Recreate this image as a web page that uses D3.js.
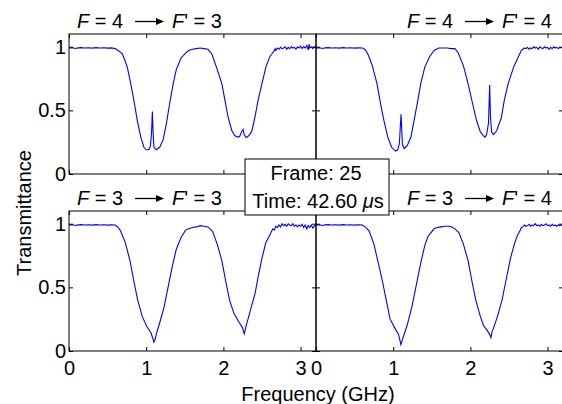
<!DOCTYPE html>
<html>
<head>
<meta charset="utf-8">
<script src="https://cdn.jsdelivr.net/npm/d3@7"></script>
<style>
  body { margin: 0; background: #fff; }
  svg text { font-family: "Liberation Sans", Arial, sans-serif; fill: #000; }
  .axis text { font-size: 20px; }
  .axis line { stroke: #000; }
  .axis path { display: none; }
</style>
</head>
<body>
<svg id="chart" width="562" height="404"></svg>
<script>
/* DATA: [frequency GHz, transmittance] */

const baseline = [[0.00, 0.990], [0.05, 0.992], [0.08, 0.986], [0.12, 0.991], [0.16, 0.993], [0.20, 0.990],
  [0.25, 0.992], [0.30, 0.989], [0.35, 0.993], [0.40, 0.990], [0.45, 0.992], [0.50, 0.989], [0.55, 0.991]];

// F = 4 -> F' = 3
const curveTL = [...baseline,
  [0.60, 0.985], [0.65, 0.965], [0.69, 0.945], [0.72, 0.90], [0.755, 0.84], [0.80, 0.71], [0.84, 0.58],
  [0.885, 0.42], [0.93, 0.29], [0.97, 0.21], [1.00, 0.19], [1.035, 0.19], [1.055, 0.22], [1.07, 0.33],
  [1.08, 0.49], [1.09, 0.32], [1.10, 0.21], [1.13, 0.19], [1.175, 0.21], [1.22, 0.27], [1.26, 0.39],
  [1.30, 0.54], [1.35, 0.71], [1.39, 0.82], [1.45, 0.91], [1.51, 0.95], [1.55, 0.97], [1.60, 0.98],
  [1.65, 0.985], [1.70, 0.99], [1.75, 0.985], [1.80, 0.98], [1.85, 0.945], [1.91, 0.84], [1.98, 0.71],
  [2.02, 0.58], [2.06, 0.45], [2.11, 0.34], [2.15, 0.30], [2.19, 0.29], [2.21, 0.295], [2.235, 0.33],
  [2.255, 0.35], [2.27, 0.31], [2.29, 0.29], [2.31, 0.29], [2.34, 0.31], [2.37, 0.34], [2.41, 0.45],
  [2.45, 0.58], [2.50, 0.71], [2.55, 0.84], [2.60, 0.92], [2.63, 0.945], [2.66, 0.97], [2.67, 0.985],
  [2.68, 0.97], [2.70, 0.99], [2.72, 0.98], [2.74, 0.995], [2.76, 0.985], [2.78, 0.99], [2.80, 1.0],
  [2.82, 0.98], [2.84, 0.995], [2.86, 0.985], [2.88, 1.0], [2.90, 0.99], [2.92, 0.995], [2.94, 0.98],
  [2.96, 1.0], [2.98, 0.99], [3.00, 1.005], [3.02, 0.985], [3.04, 1.0], [3.06, 0.99], [3.08, 1.01],
  [3.10, 0.975], [3.11, 1.02], [3.12, 0.99], [3.14, 1.0], [3.16, 0.985], [3.18, 1.0], [3.20, 0.995]];

// F = 4 -> F' = 4
const curveTR = [...baseline,
  [0.605, 0.99], [0.64, 0.975], [0.67, 0.945], [0.70, 0.90], [0.73, 0.85], [0.79, 0.71], [0.84, 0.54],
  [0.88, 0.42], [0.93, 0.29], [0.98, 0.21], [1.03, 0.18], [1.06, 0.19], [1.08, 0.24], [1.095, 0.40],
  [1.102, 0.47], [1.11, 0.36], [1.12, 0.23], [1.14, 0.20], [1.18, 0.22], [1.23, 0.29], [1.27, 0.42],
  [1.32, 0.58], [1.36, 0.72], [1.41, 0.84], [1.47, 0.92], [1.53, 0.97], [1.59, 0.99], [1.65, 0.99],
  [1.70, 0.99], [1.75, 0.985], [1.80, 0.985], [1.84, 0.955], [1.91, 0.85], [1.97, 0.71], [2.03, 0.55],
  [2.08, 0.42], [2.13, 0.33], [2.17, 0.30], [2.19, 0.29], [2.21, 0.31], [2.235, 0.40], [2.25, 0.70],
  [2.26, 0.45], [2.275, 0.33], [2.30, 0.31], [2.34, 0.34], [2.40, 0.44], [2.44, 0.58], [2.49, 0.71],
  [2.56, 0.84], [2.62, 0.92], [2.66, 0.97], [2.68, 0.98], [2.70, 0.99], [2.72, 0.985], [2.74, 0.995],
  [2.76, 0.98], [2.78, 0.99], [2.80, 0.985], [2.82, 1.0], [2.84, 0.99], [2.86, 0.995], [2.88, 0.98],
  [2.90, 1.0], [2.92, 0.99], [2.94, 0.985], [2.96, 1.0], [2.98, 0.99], [3.00, 0.995], [3.02, 0.98],
  [3.04, 0.995], [3.06, 0.985], [3.08, 1.0], [3.10, 0.99], [3.12, 0.995], [3.14, 0.985], [3.16, 0.995],
  [3.18, 0.99], [3.20, 0.995]];

// F = 3 -> F' = 3
const curveBL = [...baseline,
  [0.60, 0.99], [0.64, 0.97], [0.67, 0.94], [0.73, 0.85], [0.79, 0.71], [0.84, 0.55], [0.89, 0.40],
  [0.95, 0.27], [1.01, 0.19], [1.06, 0.145], [1.08, 0.11], [1.10, 0.07], [1.12, 0.10], [1.13, 0.13],
  [1.17, 0.21], [1.23, 0.34], [1.28, 0.49], [1.34, 0.67], [1.39, 0.80], [1.45, 0.89], [1.51, 0.95],
  [1.55, 0.96], [1.60, 0.97], [1.65, 0.975], [1.70, 0.985], [1.75, 0.98], [1.80, 0.975], [1.86, 0.94],
  [1.92, 0.84], [1.98, 0.71], [2.03, 0.55], [2.08, 0.40], [2.14, 0.29], [2.21, 0.22], [2.25, 0.18],
  [2.27, 0.135], [2.285, 0.17], [2.30, 0.21], [2.35, 0.32], [2.41, 0.45], [2.45, 0.58], [2.50, 0.73],
  [2.55, 0.85], [2.60, 0.91], [2.64, 0.96], [2.66, 0.95], [2.68, 0.98], [2.70, 0.97], [2.72, 0.99],
  [2.74, 0.975], [2.76, 1.0], [2.78, 0.985], [2.80, 0.995], [2.82, 0.98], [2.84, 1.0], [2.86, 0.99],
  [2.88, 0.985], [2.90, 1.0], [2.92, 0.98], [2.94, 0.99], [2.96, 0.975], [2.98, 0.99], [3.00, 0.98],
  [3.02, 0.995], [3.04, 0.97], [3.06, 0.99], [3.08, 0.96], [3.10, 0.985], [3.12, 0.97], [3.14, 0.99],
  [3.16, 0.965], [3.18, 0.985], [3.20, 0.98]];

// F = 3 -> F' = 4
const curveBR = [...baseline,
  [0.60, 0.99], [0.65, 0.97], [0.69, 0.94], [0.75, 0.84], [0.80, 0.71], [0.86, 0.55], [0.91, 0.40],
  [0.96, 0.25], [1.03, 0.17], [1.07, 0.13], [1.10, 0.05], [1.12, 0.09], [1.13, 0.11], [1.18, 0.20],
  [1.24, 0.34], [1.29, 0.49], [1.36, 0.70], [1.41, 0.83], [1.45, 0.90], [1.49, 0.93], [1.53, 0.96],
  [1.57, 0.97], [1.62, 0.975], [1.67, 0.98], [1.72, 0.98], [1.76, 0.975], [1.80, 0.96], [1.85, 0.93],
  [1.91, 0.84], [1.97, 0.71], [2.02, 0.55], [2.07, 0.40], [2.13, 0.27], [2.17, 0.20], [2.22, 0.16],
  [2.25, 0.13], [2.267, 0.105], [2.28, 0.15], [2.30, 0.18], [2.35, 0.27], [2.41, 0.40], [2.46, 0.55],
  [2.52, 0.73], [2.57, 0.84], [2.61, 0.91], [2.64, 0.94], [2.66, 0.97], [2.68, 0.975], [2.70, 0.99],
  [2.72, 0.98], [2.74, 0.985], [2.76, 0.995], [2.78, 0.98], [2.80, 0.99], [2.82, 0.985], [2.84, 1.0],
  [2.86, 0.985], [2.88, 0.99], [2.90, 0.98], [2.92, 0.995], [2.94, 0.985], [2.96, 0.99], [2.98, 1.0],
  [3.00, 0.985], [3.02, 0.99], [3.04, 0.98], [3.06, 0.995], [3.08, 0.985], [3.10, 0.99], [3.12, 0.98],
  [3.14, 0.99], [3.16, 0.985], [3.18, 0.99], [3.20, 0.985]];

const titlesF = ["4", "4", "3", "3"];
const titlesFp = ["3", "4", "3", "4"];
const xTicks = [0, 1, 2, 3];
const xTickLabels = ["0", "1", "2", "3"];
const yTicks = [0, 0.5, 1];
const yTickLabels = ["0", "0.5", "1"];
const frameLabel = "Frame: 25";
const timeValue = "42.60";

/* LAYOUT */
const svg = d3.select("#chart");
const panelW = 247, panelH = 140;
const lefts = [69, 316], tops = [34, 211];

const xScale = d3.scaleLinear().domain([0, 3.2]).range([0, panelW]);
const yScale = d3.scaleLinear().domain([0, 1.1]).range([panelH, 0]);

const line = d3.line()
  .x(d => xScale(d[0]))
  .y(d => yScale(d[1]));

const panels = [
  {data: curveTL, col: 0, row: 0},
  {data: curveTR, col: 1, row: 0},
  {data: curveBL, col: 0, row: 1},
  {data: curveBR, col: 1, row: 1}
];

panels.forEach(function(p, i) {
  const g = svg.append("g")
    .attr("transform", "translate(" + lefts[p.col] + "," + tops[p.row] + ")");

  g.append("path")
    .datum(p.data)
    .attr("d", line)
    .attr("fill", "none")
    .attr("stroke", "#0000ff")
    .attr("stroke-width", 1.1);

  // inward ticks on all four sides
  const bottom = d3.axisBottom(xScale).tickValues(xTicks).tickSize(-4).tickPadding(10)
    .tickFormat((d, k) => xTickLabels[k]);
  if (p.row === 0) bottom.tickFormat("");
  g.append("g").attr("class", "axis")
    .attr("transform", "translate(0," + panelH + ")")
    .call(bottom);

  g.append("g").attr("class", "axis")
    .call(d3.axisTop(xScale).tickValues(xTicks).tickSize(-4).tickFormat(""));

  const left = d3.axisLeft(yScale).tickValues(yTicks).tickSize(-4).tickPadding(3)
    .tickFormat((d, k) => yTickLabels[k]);
  if (p.col === 1) left.tickFormat("");
  g.append("g").attr("class", "axis").call(left);

  g.append("g").attr("class", "axis")
    .attr("transform", "translate(" + panelW + ",0)")
    .call(d3.axisRight(yScale).tickValues(yTicks).tickSize(-4).tickFormat(""));

  g.append("rect")
    .attr("width", panelW).attr("height", panelH)
    .attr("fill", "none").attr("stroke", "#000").attr("stroke-width", 1);

  // panel title: F = a -> F' = b
  const tx = p.col === 0 ? 8 : 91;
  const ty = -6;
  const t1 = g.append("text").attr("x", tx).attr("y", ty).attr("font-size", 20);
  t1.append("tspan").attr("font-style", "italic").text("F");
  t1.append("tspan").text(" = " + titlesF[i]);

  g.append("line")
    .attr("x1", tx + 58).attr("x2", tx + 82)
    .attr("y1", ty - 6.5).attr("y2", ty - 6.5)
    .attr("stroke", "#000").attr("stroke-width", 1.3);
  g.append("path")
    .attr("d", "M" + (tx + 87) + "," + (ty - 6.5) + "l-8,-3.5l0,7z")
    .attr("fill", "#000");

  const t2 = g.append("text").attr("x", tx + 95).attr("y", ty).attr("font-size", 20);
  t2.append("tspan").attr("font-style", "italic").text("F");
  t2.append("tspan").text("' = " + titlesFp[i]);
});

/* AXIS TITLES */
svg.append("text")
  .attr("transform", "translate(31,213) rotate(-90)")
  .attr("text-anchor", "middle")
  .attr("font-size", 20)
  .text("Transmittance");

svg.append("text")
  .attr("x", 318).attr("y", 401)
  .attr("text-anchor", "middle")
  .attr("font-size", 20)
  .text("Frequency (GHz)");

/* FRAME / TIME BOX */
svg.append("rect")
  .attr("x", 245).attr("y", 159).attr("width", 144).attr("height", 56)
  .attr("fill", "#fff").attr("stroke", "#000").attr("stroke-width", 1);

svg.append("text")
  .attr("x", 316).attr("y", 180)
  .attr("text-anchor", "middle").attr("font-size", 20)
  .text(frameLabel);

const tt = svg.append("text")
  .attr("x", 318).attr("y", 208)
  .attr("text-anchor", "middle").attr("font-size", 20);
tt.append("tspan").text("Time: " + timeValue + " ");
tt.append("tspan").attr("font-style", "italic").text("\u03bc");
tt.append("tspan").text("s");
</script>
</body>
</html>
